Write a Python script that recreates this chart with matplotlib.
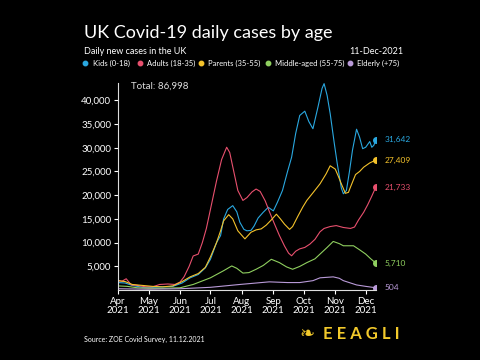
import numpy as np
import pandas as pd
import matplotlib
matplotlib.use("Agg")
import matplotlib.pyplot as plt
from matplotlib.lines import Line2D

plt.rcParams['font.family'] = ['Lato', 'DejaVu Sans']

labels = ['Kids (0-18)', 'Adults (18-35)', 'Parents (35-55)', 'Middle-aged (55-75)', 'Elderly (+75)']
colors = ['#2aa8e0', '#e8506e', '#f4c22b', '#8fcf5f', '#b99ad8']

kids_dates = ['2021-04-01', '2021-04-08', '2021-04-15', '2021-04-25', '2021-05-05', '2021-05-15', '2021-05-25',
              '2021-06-03', '2021-06-11', '2021-06-19', '2021-06-26', '2021-07-01', '2021-07-07', '2021-07-11',
              '2021-07-14', '2021-07-18', '2021-07-23', '2021-07-27', '2021-07-30', '2021-08-03', '2021-08-06',
              '2021-08-10', '2021-08-13', '2021-08-17', '2021-08-22', '2021-08-27', '2021-09-01', '2021-09-05',
              '2021-09-10', '2021-09-15', '2021-09-19', '2021-09-23', '2021-09-27', '2021-10-02', '2021-10-06',
              '2021-10-10', '2021-10-15', '2021-10-19', '2021-10-21', '2021-10-24', '2021-10-27', '2021-10-31',
              '2021-11-03', '2021-11-07', '2021-11-09', '2021-11-12', '2021-11-15', '2021-11-18', '2021-11-22',
              '2021-11-25', '2021-11-28', '2021-12-01', '2021-12-05', '2021-12-07', '2021-12-09', '2021-12-11']
kids = [1600, 1500, 1000, 600, 600, 700, 800,
        1500, 2600, 3300, 4700, 6500, 10000, 11500,
        15000, 17000, 17800, 16500, 14300, 12800, 12500,
        12600, 13500, 15200, 16400, 17450, 16700, 18500,
        21000, 25000, 28000, 33000, 36800, 37700, 35500,
        34000, 38600, 42500, 43500, 41000, 37200, 31000,
        26600, 21500, 20300, 21000, 25000, 29500, 33900,
        32200, 29800, 30100, 31300, 30100, 30500, 31642]

adults_dates = ['2021-04-01', '2021-04-05', '2021-04-09', '2021-04-14', '2021-04-20', '2021-04-28', '2021-05-05',
                '2021-05-12', '2021-05-20', '2021-05-27', '2021-06-01', '2021-06-05', '2021-06-10', '2021-06-14',
                '2021-06-19', '2021-06-23', '2021-06-27', '2021-07-02', '2021-07-07', '2021-07-12', '2021-07-17',
                '2021-07-20', '2021-07-24', '2021-07-28', '2021-08-02', '2021-08-06', '2021-08-11', '2021-08-15',
                '2021-08-19', '2021-08-24', '2021-08-28', '2021-09-02', '2021-09-07', '2021-09-12', '2021-09-16',
                '2021-09-19', '2021-09-23', '2021-09-27', '2021-10-02', '2021-10-07', '2021-10-12', '2021-10-17',
                '2021-10-21', '2021-10-27', '2021-11-02', '2021-11-09', '2021-11-16', '2021-11-20', '2021-11-24',
                '2021-11-29', '2021-12-03', '2021-12-07', '2021-12-11']
adults = [2000, 1900, 2400, 1100, 1000, 700, 700,
          1200, 1300, 1200, 1700, 2800, 5000, 7200,
          7600, 10000, 13000, 18000, 23000, 27500, 30100,
          29000, 25000, 21000, 18900, 19500, 20700, 21300,
          20800, 18800, 16600, 14000, 11500, 9300, 7800,
          7240, 8200, 8700, 9000, 9700, 10700, 12300,
          13000, 13400, 13600, 13200, 13000, 13300, 14800,
          16400, 18000, 19800, 21733]

parents_dates = ['2021-04-01', '2021-04-08', '2021-04-15', '2021-04-25', '2021-05-05', '2021-05-15', '2021-05-25',
                 '2021-06-03', '2021-06-11', '2021-06-19', '2021-06-26', '2021-07-01', '2021-07-07', '2021-07-11',
                 '2021-07-14', '2021-07-19', '2021-07-23', '2021-07-28', '2021-08-04', '2021-08-10', '2021-08-15',
                 '2021-08-20', '2021-08-25', '2021-08-30', '2021-09-04', '2021-09-08', '2021-09-12', '2021-09-17',
                 '2021-09-20', '2021-09-25', '2021-09-30', '2021-10-04', '2021-10-10', '2021-10-17', '2021-10-23',
                 '2021-10-27', '2021-11-01', '2021-11-04', '2021-11-07', '2021-11-11', '2021-11-14', '2021-11-16',
                 '2021-11-21', '2021-11-25', '2021-11-29', '2021-12-05', '2021-12-11']
parents = [2000, 1800, 1200, 1000, 800, 700, 900,
           1800, 2800, 3500, 4800, 7000, 10000, 12500,
           14600, 15900, 15000, 12500, 10800, 12200, 12700,
           12900, 13700, 14800, 16000, 15000, 13900, 12800,
           13400, 15500, 17500, 18900, 20500, 22400, 24500,
           26200, 25500, 24000, 22400, 20400, 20600, 21700,
           24350, 25000, 25900, 26800, 27409]

middle_dates = ['2021-04-01', '2021-04-10', '2021-04-20', '2021-05-01', '2021-05-15', '2021-06-01', '2021-06-14',
                '2021-07-01', '2021-07-14', '2021-07-22', '2021-07-27', '2021-08-02', '2021-08-08', '2021-08-15',
                '2021-08-22', '2021-08-30', '2021-09-07', '2021-09-14', '2021-09-20', '2021-09-27', '2021-10-04',
                '2021-10-12', '2021-10-17', '2021-10-24', '2021-10-30', '2021-11-05', '2021-11-09', '2021-11-19',
                '2021-11-25', '2021-12-01', '2021-12-06', '2021-12-11']
middle = [900, 800, 500, 400, 400, 500, 1200,
          2600, 4100, 5100, 4600, 3600, 3700, 4400,
          5200, 6500, 5800, 4900, 4400, 5000, 5800,
          6600, 7600, 9000, 10260, 9800, 9350, 9350,
          8500, 7600, 6600, 5710]

elderly_dates = ['2021-04-01', '2021-05-01', '2021-06-01', '2021-07-01', '2021-07-30', '2021-08-28', '2021-09-15',
                 '2021-09-27', '2021-10-10', '2021-10-17', '2021-10-30', '2021-11-05', '2021-11-09', '2021-11-22',
                 '2021-12-01', '2021-12-11']
elderly = [300, 200, 300, 600, 1200, 1750, 1600,
           1600, 2000, 2600, 2800, 2500, 2000, 1100,
           800, 504]

series = [(kids_dates, kids), (adults_dates, adults), (parents_dates, parents),
          (middle_dates, middle), (elderly_dates, elderly)]

fig = plt.figure(figsize=(4.8, 3.6), dpi=100, facecolor='black')
ax = fig.add_axes([0.246, 0.194, 0.537, 0.575], facecolor='black')

for (d, v), c in zip(series, colors):
    d = pd.to_datetime(d)
    ax.plot(d, v, color=c, lw=0.8)
    ax.plot(d[-1], v[-1], 'o', color=c, ms=4)
    ax.annotate(f'{v[-1]:,}', (d[-1], v[-1]), xytext=(6, 0), textcoords='offset points',
                color=c, fontsize=6, va='center')

ax.set_xlim(pd.Timestamp('2021-04-01'), pd.Timestamp('2021-12-11'))
ax.set_ylim(0, 43600)
ax.set_yticks(range(5000, 45000, 5000))
ax.set_yticklabels([f'{t:,}' for t in range(5000, 45000, 5000)])
months = pd.date_range('2021-04-01', '2021-12-01', freq='MS')
ax.set_xticks(months)
ax.set_xticklabels([m.strftime('%b\n%Y') for m in months], linespacing=1.0)

for s in ['top', 'right']:
    ax.spines[s].set_visible(False)
for s in ['left', 'bottom']:
    ax.spines[s].set_color('#dddddd')
    ax.spines[s].set_linewidth(0.8)
ax.tick_params(colors='white', labelsize=7, length=3, width=0.8, pad=2)

ax.text(0.05, 0.985, 'Total: 86,998', transform=ax.transAxes, color='#dddddd', fontsize=7, va='center')

fig.text(0.175, 0.895, 'UK Covid-19 daily cases by age', color='white', fontsize=13, va='baseline')
fig.text(0.175, 0.858, 'Daily new cases in the UK', color='white', fontsize=6.5, va='center')
fig.text(0.84, 0.858, '11-Dec-2021', color='white', fontsize=6.5, va='center', ha='right')

legend_x = [0.178, 0.292, 0.419, 0.558, 0.729]
for lx, lab, c in zip(legend_x, labels, colors):
    fig.add_artist(Line2D([lx], [0.825], marker='o', color=c, ms=3.2, transform=fig.transFigure))
    fig.text(lx + 0.015, 0.825, lab, color='white', fontsize=5.5, va='center')

fig.text(0.175, 0.056, 'Source: ZOE Covid Survey, 11.12.2021', color='white', fontsize=5, va='center')
fig.text(0.64, 0.072, '\u2767', color='#f2c92b', fontsize=13, va='center', ha='center',
         family=['DejaVu Sans'])
fig.text(0.672, 0.072, 'E E A G L I', color='#f2c92b', fontsize=12, fontweight='bold', va='center')

fig.savefig('out.png', dpi=100, facecolor='black')
